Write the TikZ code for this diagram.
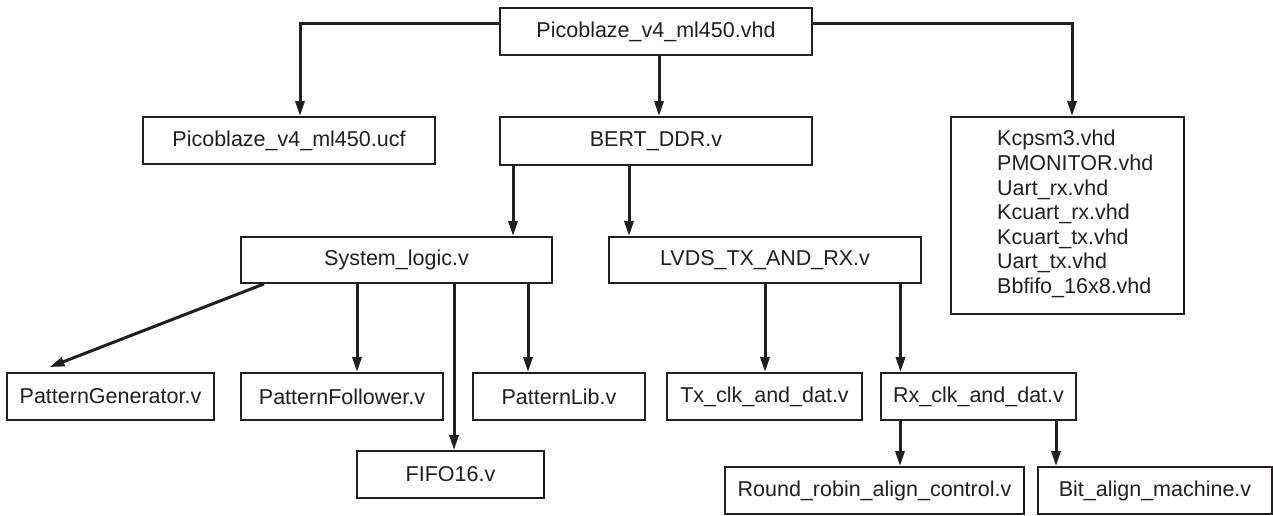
\documentclass[tikz,border=0pt]{standalone}
\usepackage{fontspec}
\setmainfont{Liberation Sans}
\usetikzlibrary{arrows.meta}
\definecolor{ink}{RGB}{35,31,32}
\begin{document}
\begin{tikzpicture}[x=1pt,y=-1pt,
  lbl/.style={text=ink, font=\fontsize{21.5}{24.6}\selectfont},
  box/.style={lbl, draw=ink, line width=1.8pt, inner sep=0pt},
  sz/.style 2 args={minimum width=#1pt, minimum height=#2pt},
  arr/.style={draw=ink, line width=3pt, -{Triangle[length=15pt,width=9pt]}}]
\fill[white] (0,0) rectangle (1273,515);
\useasboundingbox (0,0) rectangle (1273,515);
% nodes
\node[box, sz={312}{47}] (top)  at (656,31.5)  {Picoblaze\_v4\_ml450.vhd};
\node[box, sz={292}{47}] (ucf)  at (289,140.5) {Picoblaze\_v4\_ml450.ucf};
\node[box, sz={312}{48}] (bert) at (656,141)   {BERT\_DDR.v};
\node[box, sz={233}{197}] (kc)  at (1067.5,215.5) {};
\node[lbl, anchor=west, align=left, inner sep=0pt] (kctext) at (997,214)
  {Kcpsm3.vhd\\PMONITOR.vhd\\Uart\_rx.vhd\\Kcuart\_rx.vhd\\Kcuart\_tx.vhd\\Uart\_tx.vhd\\Bbfifo\_16x8.vhd};
\node[box, sz={311}{46}] (sys)  at (396.5,260) {System\_logic.v};
\node[box, sz={312}{46}] (lvds) at (765,260)   {LVDS\_TX\_AND\_RX.v};
\node[box, sz={207}{47}] (pg)   at (110.5,396.5) {PatternGenerator.v};
\node[box, sz={202}{47}] (pf)   at (342,396.5) {PatternFollower.v};
\node[box, sz={172}{47}] (pl)   at (559,396.5) {PatternLib.v};
\node[box, sz={187}{47}] (fifo) at (450.5,474.5) {FIFO16.v};
\node[box, sz={195}{47}] (tx)   at (764.5,396.5) {Tx\_clk\_and\_dat.v};
\node[box, sz={195}{47}] (rx)   at (978.5,396.5) {Rx\_clk\_and\_dat.v};
\node[box, sz={299}{47}] (rr)   at (874.5,490.5) {Round\_robin\_align\_control.v};
\node[box, sz={234}{47}] (ba)   at (1155,490.5) {Bit\_align\_machine.v};
% connectors
\draw[arr] ([yshift=8.5pt]top.west) -| ([xshift=11pt]ucf.north);
\draw[arr] ([yshift=8.5pt]top.east) -| ([xshift=4.5pt]kc.north);
\draw[arr] ([xshift=3pt]top.south) -- ([xshift=3pt]bert.north);
\draw[arr] ([xshift=-143pt]bert.south) -- ([xshift=-143pt]bert.south |- sys.north);
\draw[arr] ([xshift=-27pt]bert.south) -- ([xshift=-27pt]bert.south |- lvds.north);
\draw[arr] ([xshift=-132.5pt]sys.south) -- ([xshift=-61pt,yshift=5pt]pg.north);
\draw[arr] ([xshift=-39.5pt]sys.south) -- ([xshift=-39.5pt]sys.south |- pf.north);
\draw[arr] ([xshift=57.5pt]sys.south) -- ([xshift=57.5pt]sys.south |- fifo.north);
\draw[arr] ([xshift=131.5pt]sys.south) -- ([xshift=131.5pt]sys.south |- pl.north);
\draw[arr] (lvds.south) -- (lvds.south |- tx.north);
\draw[arr] ([xshift=135.5pt]lvds.south) -- ([xshift=135.5pt]lvds.south |- rx.north);
\draw[arr] ([xshift=-78.5pt]rx.south) -- ([xshift=-78.5pt]rx.south |- rr.north);
\draw[arr] ([xshift=77.5pt]rx.south) -- ([xshift=77.5pt]rx.south |- ba.north);
\end{tikzpicture}
\end{document}
